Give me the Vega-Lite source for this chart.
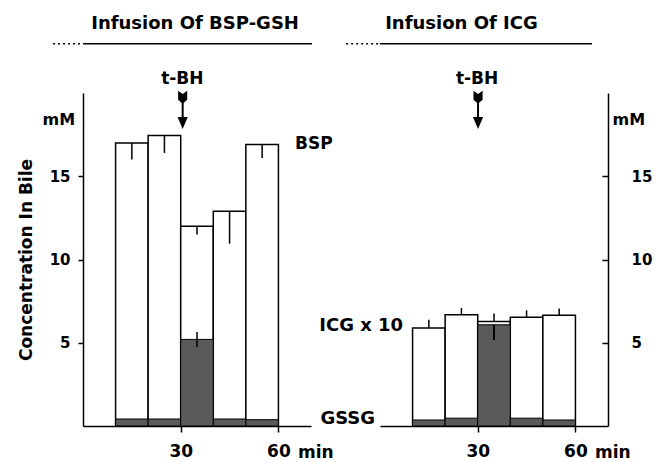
{
  "$schema": "https://vega.github.io/schema/vega-lite/v6.json",
  "autosize": "none",
  "padding": {"left": 83, "top": 93, "right": 574, "bottom": 369},
  "background": "white",
  "spacing": 69,
  "bounds": "flush",
  "config": {
    "view": {"stroke": null},
    "font": "DejaVu Sans",
    "text": {"font": "DejaVu Sans", "fontWeight": "bold", "fontSize": 17, "fill": "black"},
    "axis": {
      "labelFont": "DejaVu Sans", "titleFont": "DejaVu Sans",
      "labelFontWeight": "bold", "titleFontWeight": "bold",
      "labelColor": "black", "titleColor": "black",
      "domainColor": "black", "tickColor": "black",
      "domainWidth": 1.5, "tickWidth": 1.5, "grid": false
    }
  },
  "datasets": {
    "bspgsh": [
      {"t0": 10, "t1": 20, "t": 15, "bsp": 17.0, "bsp_lo": 16.0, "gssg": 0.42},
      {"t0": 20, "t1": 30, "t": 25, "bsp": 17.45, "bsp_lo": 16.4, "gssg": 0.42},
      {"t0": 30, "t1": 40, "t": 35, "bsp": 12.0, "bsp_lo": 11.5, "gssg": 5.2, "gssg_lo": 4.75, "gssg_hi": 5.65},
      {"t0": 40, "t1": 50, "t": 45, "bsp": 12.9, "bsp_lo": 10.95, "gssg": 0.42},
      {"t0": 50, "t1": 60, "t": 55, "bsp": 16.9, "bsp_lo": 16.1, "gssg": 0.38}
    ],
    "icg": [
      {"t0": 10, "t1": 20, "t": 15, "icg": 5.88, "icg_hi": 6.38, "gssg": 0.36},
      {"t0": 20, "t1": 30, "t": 25, "icg": 6.68, "icg_hi": 7.09, "gssg": 0.47},
      {"t0": 30, "t1": 40, "t": 35, "icg": 6.28, "icg_hi": 6.75, "gssg": 6.08, "gssg_lo": 5.17},
      {"t0": 40, "t1": 50, "t": 45, "icg": 6.53, "icg_hi": 6.95, "gssg": 0.47},
      {"t0": 50, "t1": 60, "t": 55, "icg": 6.65, "icg_hi": 7.05, "gssg": 0.36}
    ]
  },
  "hconcat": [
    {
      "width": 228,
      "height": 333,
      "layer": [
        {
          "data": {"name": "bspgsh"},
          "mark": {"type": "bar", "fill": "white", "stroke": "black", "strokeWidth": 1.5},
          "encoding": {
            "x": {"field": "t0", "type": "quantitative", "scale": {"domain": [0, 70], "nice": false},
              "axis": {"values": [30, 60], "title": null, "tickSize": 6, "labelFontSize": 17, "labelPadding": 11}},
            "x2": {"field": "t1"},
            "y": {"field": "bsp", "type": "quantitative", "scale": {"domain": [0, 20], "nice": false},
              "axis": {"values": [5, 10, 15], "title": "Concentration In Bile", "titleFontSize": 17, "titlePadding": 14,
                "labelFontSize": 15, "tickSize": 5, "labelPadding": 8}},
            "y2": {"datum": 0}
          }
        },
        {
          "data": {"name": "bspgsh"},
          "mark": {"type": "bar", "fill": "#5a5a5a", "stroke": "black", "strokeWidth": 1},
          "encoding": {
            "x": {"field": "t0", "type": "quantitative"},
            "x2": {"field": "t1"},
            "y": {"field": "gssg", "type": "quantitative"},
            "y2": {"datum": 0}
          }
        },
        {
          "data": {"name": "bspgsh"},
          "mark": {"type": "rule", "stroke": "black", "strokeWidth": 1.5},
          "encoding": {
            "x": {"field": "t", "type": "quantitative"},
            "y": {"field": "bsp", "type": "quantitative"},
            "y2": {"field": "bsp_lo"}
          }
        },
        {
          "data": {"name": "bspgsh"},
          "mark": {"type": "rule", "stroke": "black", "strokeWidth": 1.5},
          "encoding": {
            "x": {"field": "t", "type": "quantitative"},
            "y": {"field": "gssg_hi", "type": "quantitative"},
            "y2": {"field": "gssg_lo"}
          }
        },
        {
          "data": {"values": [{"label": "Infusion Of BSP-GSH"}]},
          "mark": {"type": "text", "align": "center", "baseline": "alphabetic", "fontSize": 18},
          "encoding": {"x": {"datum": 34.4}, "y": {"datum": 23.85}, "text": {"field": "label"}}
        },
        {
          "data": {"values": [{"label": "Infusion Of BSP-GSH"}]},
          "mark": {"type": "rule", "stroke": "black", "strokeWidth": 1.5, "strokeDash": [2, 3]},
          "encoding": {"x": {"datum": -9.2}, "x2": {"datum": 0.6}, "y": {"datum": 22.96}}
        },
        {
          "data": {"values": [{"label": "Infusion Of BSP-GSH"}]},
          "mark": {"type": "rule", "stroke": "black", "strokeWidth": 1.5},
          "encoding": {"x": {"datum": 0.6}, "x2": {"datum": 70.3}, "y": {"datum": 22.96}}
        },
        {
          "data": {"values": [{"label": "t-BH"}]},
          "mark": {"type": "text", "align": "center", "baseline": "alphabetic", "fontSize": 17},
          "encoding": {"x": {"datum": 30.5}, "y": {"datum": 20.55}, "text": {"field": "label"}}
        },
        {
          "data": {"values": [{"label": "t-BH"}]},
          "mark": {"type": "rule", "stroke": "black", "strokeWidth": 2},
          "encoding": {"x": {"datum": 30.6}, "y": {"datum": 19.6}, "y2": {"datum": 18.4}}
        },
        {
          "data": {"values": [{"label": "t-BH"}]},
          "mark": {"type": "point", "filled": true, "fill": "black", "stroke": null, "opacity": 1, "size": 169,
            "shape": "M-0.7,-1L0,-0.5L0.7,-1L0.7,0.4L0,1L-0.7,0.4Z"},
          "encoding": {"x": {"datum": 30.6}, "y": {"datum": 19.75}}
        },
        {
          "data": {"values": [{"label": "t-BH"}]},
          "mark": {"type": "point", "filled": true, "fill": "black", "stroke": null, "opacity": 1, "size": 144,
            "shape": "M-0.85,-1L0.85,-1L0,1Z"},
          "encoding": {"x": {"datum": 30.6}, "y": {"datum": 18.2}}
        },
        {
          "data": {"values": [{"label": "mM"}]},
          "mark": {"type": "text", "align": "center", "baseline": "middle", "fontSize": 16},
          "encoding": {"x": {"datum": -7.4}, "y": {"datum": 18.4}, "text": {"field": "label"}}
        },
        {
          "data": {"values": [{"label": "BSP"}]},
          "mark": {"type": "text", "align": "left", "baseline": "middle", "fontSize": 17},
          "encoding": {"x": {"datum": 65.1}, "y": {"datum": 16.92}, "text": {"field": "label"}}
        },
        {
          "data": {"values": [{"label": "min"}]},
          "mark": {"type": "text", "align": "left", "baseline": "alphabetic", "fontSize": 17},
          "encoding": {"x": {"datum": 66.0}, "y": {"datum": -1.9}, "text": {"field": "label"}}
        }
      ]
    },
    {
      "width": 228,
      "height": 333,
      "layer": [
        {
          "data": {"name": "icg"},
          "mark": {"type": "bar", "fill": "white", "stroke": "black", "strokeWidth": 1.5},
          "encoding": {
            "x": {"field": "t0", "type": "quantitative", "scale": {"domain": [0, 70], "nice": false},
              "axis": {"values": [30, 60], "title": null, "tickSize": 6, "labelFontSize": 17, "labelPadding": 11}},
            "x2": {"field": "t1"},
            "y": {"field": "icg", "type": "quantitative", "scale": {"domain": [0, 20], "nice": false},
              "axis": {"orient": "right", "values": [5, 10, 15], "title": null,
                "labelFontSize": 15, "tickSize": -6, "labelPadding": 29}},
            "y2": {"datum": 0}
          }
        },
        {
          "data": {"name": "icg"},
          "mark": {"type": "bar", "fill": "#5a5a5a", "stroke": "black", "strokeWidth": 1},
          "encoding": {
            "x": {"field": "t0", "type": "quantitative"},
            "x2": {"field": "t1"},
            "y": {"field": "gssg", "type": "quantitative"},
            "y2": {"datum": 0}
          }
        },
        {
          "data": {"name": "icg"},
          "mark": {"type": "rule", "stroke": "black", "strokeWidth": 1.5},
          "encoding": {
            "x": {"field": "t", "type": "quantitative"},
            "y": {"field": "icg", "type": "quantitative"},
            "y2": {"field": "icg_hi"}
          }
        },
        {
          "data": {"name": "icg"},
          "mark": {"type": "rule", "stroke": "black", "strokeWidth": 2},
          "encoding": {
            "x": {"field": "t", "type": "quantitative"},
            "y": {"field": "gssg_lo", "type": "quantitative"},
            "y2": {"field": "gssg"}
          }
        },
        {
          "data": {"values": [{"label": "Infusion Of ICG"}]},
          "mark": {"type": "text", "align": "center", "baseline": "alphabetic", "fontSize": 18},
          "encoding": {"x": {"datum": 25.0}, "y": {"datum": 23.85}, "text": {"field": "label"}}
        },
        {
          "data": {"values": [{"label": "Infusion Of ICG"}]},
          "mark": {"type": "rule", "stroke": "black", "strokeWidth": 1.5, "strokeDash": [2, 3]},
          "encoding": {"x": {"datum": -10.4}, "x2": {"datum": 0}, "y": {"datum": 22.96}}
        },
        {
          "data": {"values": [{"label": "Infusion Of ICG"}]},
          "mark": {"type": "rule", "stroke": "black", "strokeWidth": 1.5},
          "encoding": {"x": {"datum": 0}, "x2": {"datum": 65.1}, "y": {"datum": 22.96}}
        },
        {
          "data": {"values": [{"label": "t-BH"}]},
          "mark": {"type": "text", "align": "center", "baseline": "alphabetic", "fontSize": 17},
          "encoding": {"x": {"datum": 29.8}, "y": {"datum": 20.55}, "text": {"field": "label"}}
        },
        {
          "data": {"values": [{"label": "t-BH"}]},
          "mark": {"type": "rule", "stroke": "black", "strokeWidth": 2},
          "encoding": {"x": {"datum": 30.1}, "y": {"datum": 19.6}, "y2": {"datum": 18.4}}
        },
        {
          "data": {"values": [{"label": "t-BH"}]},
          "mark": {"type": "point", "filled": true, "fill": "black", "stroke": null, "opacity": 1, "size": 169,
            "shape": "M-0.7,-1L0,-0.5L0.7,-1L0.7,0.4L0,1L-0.7,0.4Z"},
          "encoding": {"x": {"datum": 30.1}, "y": {"datum": 19.75}}
        },
        {
          "data": {"values": [{"label": "t-BH"}]},
          "mark": {"type": "point", "filled": true, "fill": "black", "stroke": null, "opacity": 1, "size": 144,
            "shape": "M-0.85,-1L0.85,-1L0,1Z"},
          "encoding": {"x": {"datum": 30.1}, "y": {"datum": 18.2}}
        },
        {
          "data": {"values": [{"label": "mM"}]},
          "mark": {"type": "text", "align": "center", "baseline": "middle", "fontSize": 16},
          "encoding": {"x": {"datum": 76.4}, "y": {"datum": 18.4}, "text": {"field": "label"}}
        },
        {
          "data": {"values": [{"label": "ICG x 10"}]},
          "mark": {"type": "text", "align": "right", "baseline": "middle", "fontSize": 18},
          "encoding": {"x": {"datum": 7.1}, "y": {"datum": 6.03}, "text": {"field": "label"}}
        },
        {
          "data": {"values": [{"label": "GSSG"}]},
          "mark": {"type": "text", "align": "right", "baseline": "middle", "fontSize": 18},
          "encoding": {"x": {"datum": -1.5}, "y": {"datum": 0.44}, "text": {"field": "label"}}
        },
        {
          "data": {"values": [{"label": "min"}]},
          "mark": {"type": "text", "align": "left", "baseline": "alphabetic", "fontSize": 17},
          "encoding": {"x": {"datum": 66.0}, "y": {"datum": -1.9}, "text": {"field": "label"}}
        }
      ]
    }
  ]
}
